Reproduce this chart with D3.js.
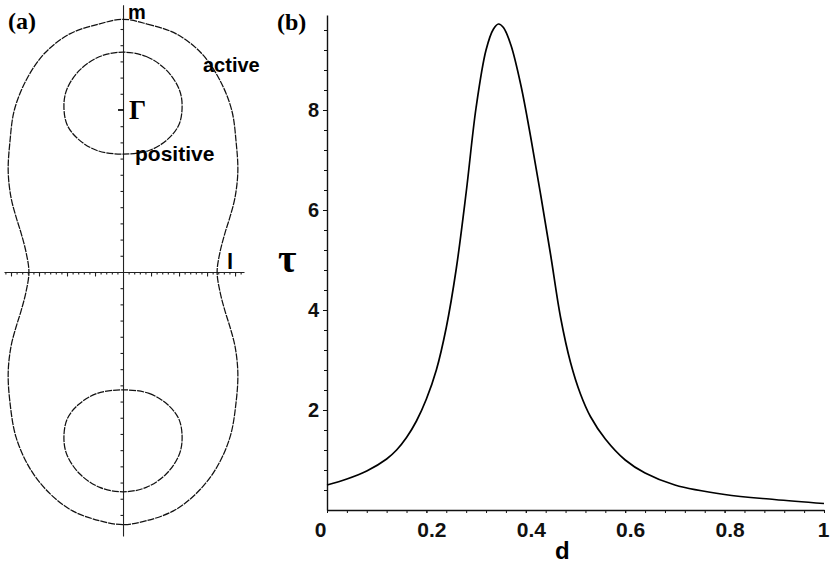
<!DOCTYPE html>
<html>
<head>
<meta charset="utf-8">
<script src="https://cdn.jsdelivr.net/npm/d3@7"></script>
<style>
  html, body { margin: 0; padding: 0; background: #fff; }
  svg { display: block; }
</style>
</head>
<body>
<svg id="chart" width="832" height="566"></svg>
<script>
// ---------- Panel (b) data: tau vs d ----------
const dValues = [0, 0.04, 0.08, 0.12, 0.14, 0.16, 0.18, 0.2, 0.22, 0.24, 0.26, 0.28, 0.3, 0.32, 0.335, 0.345, 0.355, 0.37, 0.39, 0.41, 0.43, 0.45, 0.47, 0.49, 0.51, 0.53, 0.56, 0.6, 0.64, 0.7, 0.8, 0.9, 1.0];
const tauValues = [0.5, 0.62, 0.78, 1.02, 1.2, 1.45, 1.78, 2.22, 2.8, 3.65, 4.82, 6.35, 8.05, 9.2, 9.62, 9.72, 9.65, 9.3, 8.5, 7.45, 6.3, 5.1, 3.85, 2.95, 2.32, 1.87, 1.42, 1.0, 0.74, 0.5, 0.31, 0.21, 0.13];
const xTickValues = [0, 0.2, 0.4, 0.6, 0.8, 1];
const xTickLabels = ["0", "0.2", "0.4", "0.6", "0.8", "1"];
const yTickValues = [2, 4, 6, 8];
const yTickLabels = ["2", "4", "6", "8"];

// ---------- Panel (a) data: contours in the (l, m) plane ----------
const outerContour = [
  [0,1.56],[0.087,1.53],[0.19,1.47],[0.28,1.35],[0.344,1.19],[0.388,1.0],[0.404,0.8],[0.41,0.62],[0.4,0.46],[0.382,0.34],[0.364,0.24],[0.346,0.12],[0.336,0],
  [0.346,-0.12],[0.364,-0.24],[0.382,-0.34],[0.4,-0.46],[0.41,-0.62],[0.404,-0.8],[0.382,-1.02],[0.33,-1.22],[0.26,-1.37],[0.18,-1.475],[0.085,-1.535],[0,-1.56],
  [-0.085,-1.535],[-0.18,-1.475],[-0.26,-1.37],[-0.33,-1.22],[-0.382,-1.02],[-0.404,-0.8],[-0.41,-0.62],[-0.4,-0.46],[-0.382,-0.34],[-0.364,-0.24],[-0.346,-0.12],[-0.336,0],
  [-0.346,0.12],[-0.364,0.24],[-0.382,0.34],[-0.4,0.46],[-0.41,0.62],[-0.404,0.8],[-0.388,1.0],[-0.344,1.19],[-0.28,1.35],[-0.19,1.47],[-0.087,1.53]
];
const upperLoop = [
  [0,1.357],[0.083,1.33],[0.155,1.246],[0.2,1.13],[0.211,1.03],[0.2,0.91],[0.16,0.82],[0.093,0.75],[0,0.728],
  [-0.093,0.75],[-0.16,0.82],[-0.2,0.91],[-0.211,1.03],[-0.2,1.13],[-0.155,1.246],[-0.083,1.33]
];
const lowerLoop = [
  [0,-0.728],[0.093,-0.75],[0.16,-0.82],[0.2,-0.91],[0.211,-1.03],[0.2,-1.13],[0.155,-1.246],[0.083,-1.33],[0,-1.357],
  [-0.083,-1.33],[-0.155,-1.246],[-0.2,-1.13],[-0.211,-1.03],[-0.2,-0.91],[-0.16,-0.82],[-0.093,-0.75]
];
const gammaPoint = 1.0;

const svg = d3.select("#chart");
const sans = "'Liberation Sans', Arial, sans-serif";
const serif = "'Liberation Serif', 'Times New Roman', serif";

// ================= Panel (a) =================
const xA = d3.scaleLinear().domain([-0.425, 0.432]).range([4, 244]);
const yA = d3.scaleLinear().domain([-1.63, 1.65]).range([536, 4.7]);
const gA = svg.append("g");

// horizontal axis (l)
const lMinor = d3.range(-0.42, 0.4301, 0.02).filter(v => Math.abs(v) > 1e-9);
const lMajor = [-0.4, -0.3, -0.2, -0.1, 0.1, 0.2, 0.3, 0.4];
gA.append("g").attr("transform", `translate(0,${yA(0)})`)
  .call(d3.axisBottom(xA).tickValues(lMinor).tickSize(2.5).tickSizeOuter(0).tickFormat(""))
  .call(g => g.selectAll("line,path").attr("stroke", "#222").attr("stroke-width", 1.1));
gA.append("g").attr("transform", `translate(0,${yA(0)})`)
  .call(d3.axisBottom(xA).tickValues(lMajor).tickSize(4.5).tickSizeOuter(0).tickFormat(""))
  .call(g => g.select(".domain").remove())
  .call(g => g.selectAll("line").attr("stroke", "#222").attr("stroke-width", 1.1));

// vertical axis (m)
const mTicks = d3.range(-15, 16).map(k => k / 10).filter(v => Math.abs(v) > 1e-9 && Math.abs(v - gammaPoint) > 1e-9);
gA.append("g").attr("transform", `translate(${xA(0)},0)`)
  .call(d3.axisLeft(yA).tickValues(mTicks).tickSize(2.5).tickSizeOuter(0).tickFormat(""))
  .call(g => g.selectAll("line,path").attr("stroke", "#222").attr("stroke-width", 1.1));
gA.append("line")
  .attr("x1", xA(0) - 5).attr("x2", xA(0) + 1)
  .attr("y1", yA(gammaPoint)).attr("y2", yA(gammaPoint))
  .attr("stroke", "#111").attr("stroke-width", 1.8);

// contours
const contourLine = d3.line().x(d => xA(d[0])).y(d => yA(d[1])).curve(d3.curveCatmullRomClosed.alpha(0.5));
[outerContour, upperLoop, lowerLoop].forEach(c => {
  gA.append("path").attr("d", contourLine(c))
    .attr("fill", "none").attr("stroke", "#111").attr("stroke-width", 1.25)
    .attr("stroke-dasharray", "7,1");
});

// labels in (a)
gA.append("text").attr("x", 8).attr("y", 29).text("(a)")
  .attr("font-family", serif).attr("font-weight", "bold").attr("font-size", 24);
gA.append("text").attr("x", 128).attr("y", 19).text("m")
  .attr("font-family", sans).attr("font-weight", "bold").attr("font-size", 20);
gA.append("text").attr("x", 129).attr("y", 119).text("Γ")
  .attr("font-family", serif).attr("font-weight", "bold").attr("font-size", 27);
gA.append("text").attr("x", 203).attr("y", 72).text("active")
  .attr("font-family", sans).attr("font-weight", "bold").attr("font-size", 20);
gA.append("text").attr("x", 135).attr("y", 161).text("positive")
  .attr("font-family", sans).attr("font-weight", "bold").attr("font-size", 21);
gA.append("text").attr("x", 227).attr("y", 269).text("l")
  .attr("font-family", sans).attr("font-weight", "bold").attr("font-size", 22);

// ================= Panel (b) =================
const xB = d3.scaleLinear().domain([0, 1]).range([327, 824]);
const yB = d3.scaleLinear().domain([0, 9.9]).range([510, 15]);
const gB = svg.append("g");

// minor ticks
gB.append("g").attr("transform", `translate(0,${yB(0)})`)
  .call(d3.axisBottom(xB).tickValues(d3.range(0.04, 1.0, 0.04)).tickSize(3).tickSizeOuter(0).tickFormat(""))
  .call(g => g.select(".domain").remove())
  .call(g => g.selectAll("line").attr("stroke", "#111"));
gB.append("g").attr("transform", `translate(${xB(0)},0)`)
  .call(d3.axisLeft(yB).tickValues(d3.range(0.4, 9.7, 0.4)).tickSize(3).tickSizeOuter(0).tickFormat(""))
  .call(g => g.select(".domain").remove())
  .call(g => g.selectAll("line").attr("stroke", "#111"));

// major x axis
const xAxisB = gB.append("g").attr("transform", `translate(0,${yB(0)})`)
  .call(d3.axisBottom(xB).tickValues(xTickValues).tickSize(3).tickSizeOuter(0).tickPadding(9)
    .tickFormat((d, i) => xTickLabels[i]));
xAxisB.select(".domain").attr("stroke", "#111").attr("stroke-width", 1.4);
xAxisB.selectAll("line").attr("stroke", "#111");
xAxisB.selectAll("text")
  .attr("font-family", sans).attr("font-weight", "bold").attr("font-size", 21).attr("fill", "#111")
  .attr("dx", (d, i) => xTickLabels[i].length > 1 ? 5 : (i === 0 ? -7 : -1));

// major y axis
const yAxisB = gB.append("g").attr("transform", `translate(${xB(0)},0)`)
  .call(d3.axisLeft(yB).tickValues(yTickValues).tickSize(4).tickSizeOuter(0).tickPadding(4)
    .tickFormat((d, i) => yTickLabels[i]));
yAxisB.select(".domain").attr("stroke", "#111").attr("stroke-width", 1.4);
yAxisB.selectAll("line").attr("stroke", "#111");
yAxisB.selectAll("text")
  .attr("font-family", sans).attr("font-weight", "bold").attr("font-size", 20).attr("fill", "#111");

// curve
const curveData = dValues.map((d, i) => [d, tauValues[i]]);
gB.append("path")
  .attr("d", d3.line().x(d => xB(d[0])).y(d => yB(d[1])).curve(d3.curveCatmullRom.alpha(0.5))(curveData))
  .attr("fill", "none").attr("stroke", "#000").attr("stroke-width", 1.7);

// labels in (b)
gB.append("text").attr("x", 277).attr("y", 30).text("(b)")
  .attr("font-family", serif).attr("font-weight", "bold").attr("font-size", 24);
gB.append("text").attr("x", 278).attr("y", 272).text("τ")
  .attr("font-family", serif).attr("font-weight", "bold").attr("font-size", 40);
gB.append("text").attr("x", 555).attr("y", 559).text("d")
  .attr("font-family", sans).attr("font-weight", "bold").attr("font-size", 24);
</script>
</body>
</html>
